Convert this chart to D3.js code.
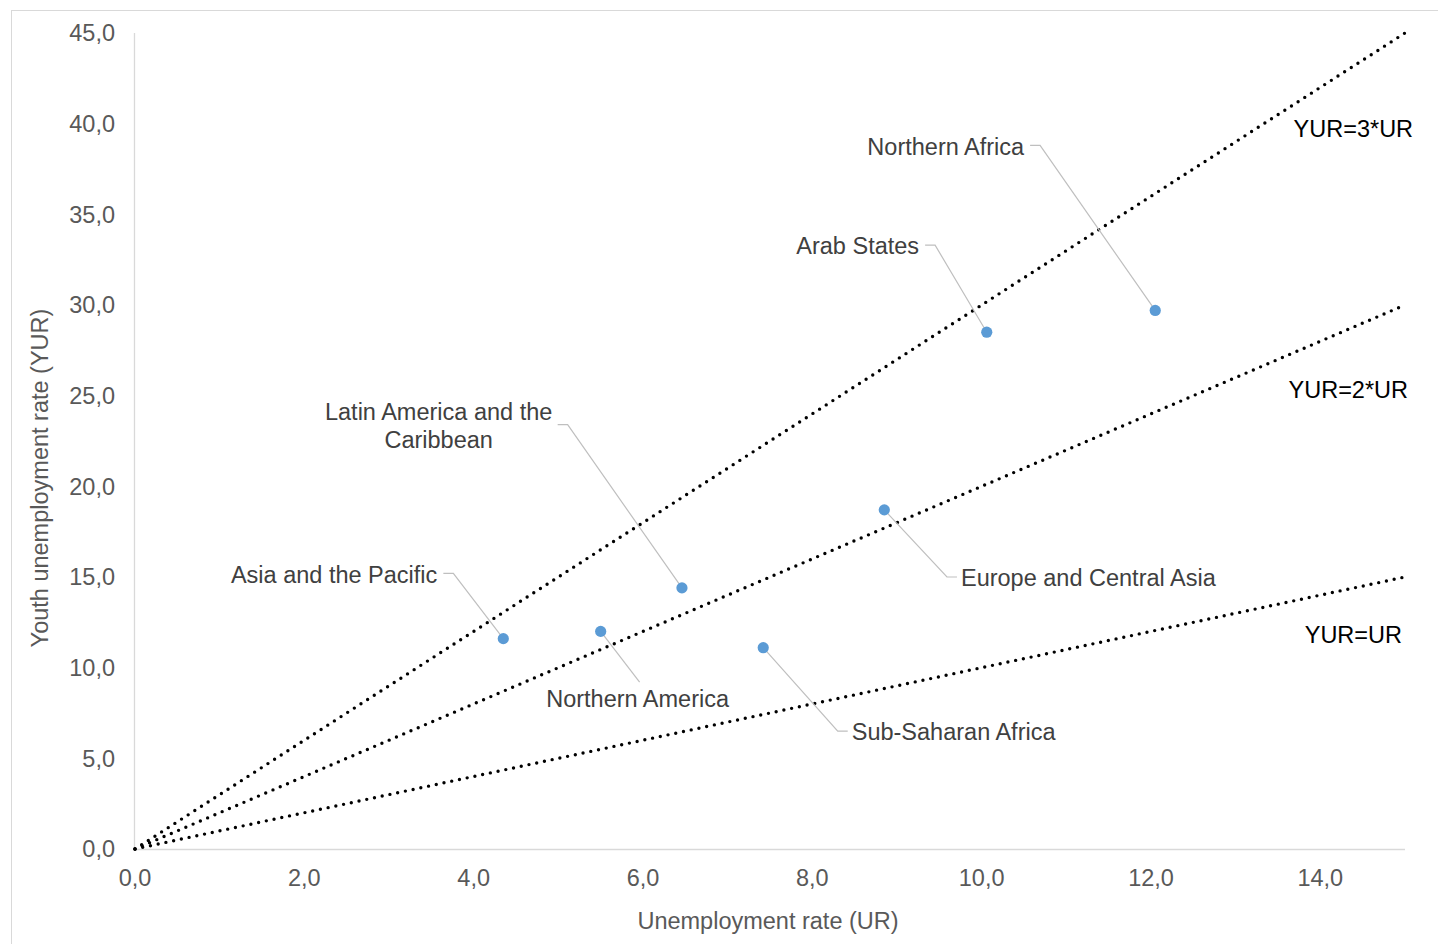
<!DOCTYPE html>
<html>
<head>
<meta charset="utf-8">
<script src="https://cdn.jsdelivr.net/npm/d3@7"></script>
<style>
  html, body { margin: 0; padding: 0; background: #fff; }
  svg { display: block; font-family: "Liberation Sans", Arial, sans-serif; }
</style>
</head>
<body>
<svg id="chart" width="1438" height="944"></svg>
<script>
// regions and their rates (UR, YUR)
const regions = ['Northern Africa', 'Arab States', 'Latin America and the Caribbean', 'Asia and the Pacific',
  'Northern America', 'Sub-Saharan Africa', 'Europe and Central Asia'];
const urValues = [12.05, 10.06, 6.46, 4.35, 5.50, 7.42, 8.85];
const yurValues = [29.7, 28.5, 14.4, 11.6, 12.0, 11.1, 18.7];

// reference lines YUR = k * UR
const refFactors = [3, 2, 1];
const refLabels = ['YUR=3*UR', 'YUR=2*UR', 'YUR=UR'];

const xTicks = [0, 2, 4, 6, 8, 10, 12, 14];
const yTicks = [0, 5, 10, 15, 20, 25, 30, 35, 40, 45];

const svg = d3.select('#chart');
const W = 1438, H = 944;
const FS = 23.5;

// marco exterior
svg.append('rect')
  .attr('x', 11.5).attr('y', 10.5)
  .attr('width', W).attr('height', H)
  .attr('fill', 'none').attr('stroke', '#d9d9d9');

const x = d3.scaleLinear().domain([0, 15]).range([135, 1405]);
const y = d3.scaleLinear().domain([0, 45]).range([849, 33]);
const fmt = d => d.toFixed(1).replace('.', ',');

// ejes
const g = svg.append('g');
g.append('line')
  .attr('x1', x(0)).attr('x2', x(15))
  .attr('y1', y(0) + 0.5).attr('y2', y(0) + 0.5)
  .attr('stroke', '#d9d9d9').attr('stroke-width', 1.3);
g.append('line')
  .attr('x1', x(0) - 0.5).attr('x2', x(0) - 0.5)
  .attr('y1', y(45)).attr('y2', y(0))
  .attr('stroke', '#d9d9d9').attr('stroke-width', 1.3);

g.selectAll('.xt').data(xTicks).enter().append('text')
  .attr('x', d => x(d)).attr('y', 878)
  .attr('dy', '0.35em')
  .attr('text-anchor', 'middle')
  .attr('font-size', FS).attr('fill', '#595959')
  .text(fmt);

g.selectAll('.yt').data(yTicks).enter().append('text')
  .attr('x', 115).attr('y', d => y(d))
  .attr('dy', '0.35em')
  .attr('text-anchor', 'end')
  .attr('font-size', FS).attr('fill', '#595959')
  .text(fmt);

svg.append('text')
  .attr('x', 768).attr('y', 921).attr('dy', '0.35em')
  .attr('text-anchor', 'middle')
  .attr('font-size', FS).attr('fill', '#595959')
  .text('Unemployment rate (UR)');

svg.append('text')
  .attr('transform', 'translate(40,478) rotate(-90)')
  .attr('dy', '0.35em')
  .attr('text-anchor', 'middle')
  .attr('font-size', FS).attr('fill', '#595959')
  .text('Youth unemployment rate (YUR)');

// lineas de referencia punteadas
g.selectAll('.ref').data(refFactors).enter().append('line')
  .attr('x1', x(0)).attr('y1', y(0))
  .attr('x2', x(15)).attr('y2', k => y(15 * k))
  .attr('stroke', '#000')
  .attr('stroke-width', 3.4)
  .attr('stroke-linecap', 'round')
  .attr('stroke-dasharray', '0,7.9');

// etiquetas de las lineas
const refLabelPos = [[14.39, 39.7], [14.33, 25.3], [14.39, 11.8]];
g.selectAll('.refl').data(refLabels).enter().append('text')
  .attr('x', (d, i) => x(refLabelPos[i][0])).attr('y', (d, i) => y(refLabelPos[i][1]))
  .attr('dy', '0.35em')
  .attr('text-anchor', 'middle')
  .attr('font-size', FS).attr('fill', '#000')
  .text(d => d);

// posicion de las etiquetas (codo del conector, en unidades de datos)
const elbowX = [10.69, 9.45, 5.11, 3.76, 5.96, 8.30, 9.59];
const elbowY = [38.8, 33.3, 23.4, 15.2, 9.2, 6.5, 15.0];
const side = ['left', 'left', 'left', 'left', 'below', 'right', 'right'];

const pts = regions.map((name, i) => ({
  name, ur: urValues[i], yur: yurValues[i], ex: elbowX[i], ey: elbowY[i], side: side[i]
}));

// conectores
pts.forEach(p => {
  const px = x(p.ur), py = y(p.yur), ex = x(p.ex), ey = y(p.ey);
  let path;
  if (p.side === 'left') path = `M${ex - 10},${ey}L${ex},${ey}L${px},${py}`;
  else if (p.side === 'right') path = `M${px},${py}L${ex},${ey}L${ex + 10},${ey}`;
  else path = `M${px},${py}L${ex},${ey}`;
  g.append('path').attr('d', path)
    .attr('fill', 'none').attr('stroke', '#bfbfbf').attr('stroke-width', 1.2);

  const t = g.append('text')
    .attr('font-size', FS).attr('fill', '#404040');
  if (p.side === 'left') {
    if (p.name === 'Latin America and the Caribbean') {
      t.attr('text-anchor', 'middle');
      t.append('tspan').attr('x', ex - 129).attr('y', ey - 13).attr('dy', '0.35em').text('Latin America and the');
      t.append('tspan').attr('x', ex - 129).attr('y', ey + 15).attr('dy', '0.35em').text('Caribbean');
    } else {
      t.attr('x', ex - 16).attr('y', ey + 1).attr('dy', '0.35em').attr('text-anchor', 'end').text(p.name);
    }
  } else if (p.side === 'right') {
    t.attr('x', ex + 14).attr('y', ey + 1).attr('dy', '0.35em').attr('text-anchor', 'start').text(p.name);
  } else {
    t.attr('x', ex - 2).attr('y', ey + 17).attr('dy', '0.35em').attr('text-anchor', 'middle').text(p.name);
  }
});

// puntos
g.selectAll('.dot').data(pts).enter().append('circle')
  .attr('cx', d => x(d.ur)).attr('cy', d => y(d.yur))
  .attr('r', 5.6)
  .attr('fill', '#5b9bd5');
</script>
</body>
</html>
